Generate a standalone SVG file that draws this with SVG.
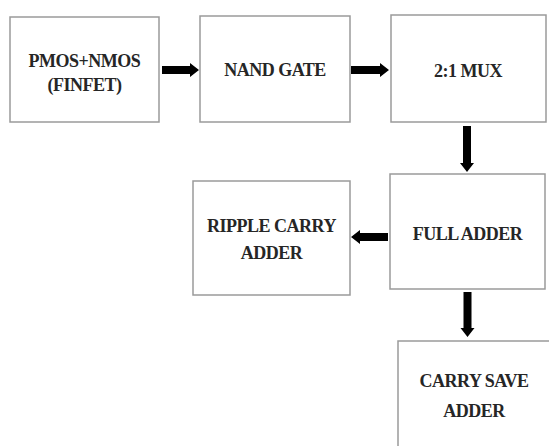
<svg xmlns="http://www.w3.org/2000/svg" width="549" height="446" viewBox="0 0 549 446">
<style>
.box{fill:#fff;stroke:#9a9a9a;stroke-width:1.5}
.lbl{font-family:"Liberation Serif","Times New Roman",serif;font-weight:bold;font-size:18px;fill:#262626;text-anchor:middle;letter-spacing:-0.5px}
.arr{fill:#000}
</style>
<rect width="549" height="446" fill="#fff"/>
<g id="n1"><rect class="box" x="10" y="17" width="149" height="105"/><text class="lbl" x="84.5" y="67">PMOS+NMOS</text><text class="lbl" x="84.5" y="91">(FINFET)</text></g>
<g id="n2"><rect class="box" x="200" y="16" width="150" height="106"/><text class="lbl" x="275" y="76">NAND GATE</text></g>
<g id="n3"><rect class="box" x="391" y="15" width="155" height="107"/><text class="lbl" x="468" y="77">2:1 MUX</text></g>
<g id="n4"><rect class="box" x="390" y="174" width="155" height="115"/><text class="lbl" x="467.5" y="240">FULL ADDER</text></g>
<g id="n5"><rect class="box" x="193" y="181" width="157" height="114"/><text class="lbl" x="271.5" y="232">RIPPLE CARRY</text><text class="lbl" x="271.5" y="259">ADDER</text></g>
<g id="n6"><rect class="box" x="398" y="341" width="155" height="110"/><text class="lbl" x="474" y="387">CARRY SAVE</text><text class="lbl" x="474" y="417">ADDER</text></g>
<g id="connectors">
<polygon class="arr" points="162,66 190,66 190,63 199,70 190,77 190,74 162,74"/>
<polygon class="arr" points="351,66 380,66 380,63 389,70 380,77 380,74 351,74"/>
<polygon class="arr" points="463,126 471,126 471,163 474,163 467,172 460,163 463,163"/>
<polygon class="arr" points="388,233 360,233 360,230 351,237 360,244 360,241 388,241"/>
<polygon class="arr" points="463.5,292 471.5,292 471.5,328 474.5,328 467.5,337 460.5,328 463.5,328"/>
</g>
</svg>
